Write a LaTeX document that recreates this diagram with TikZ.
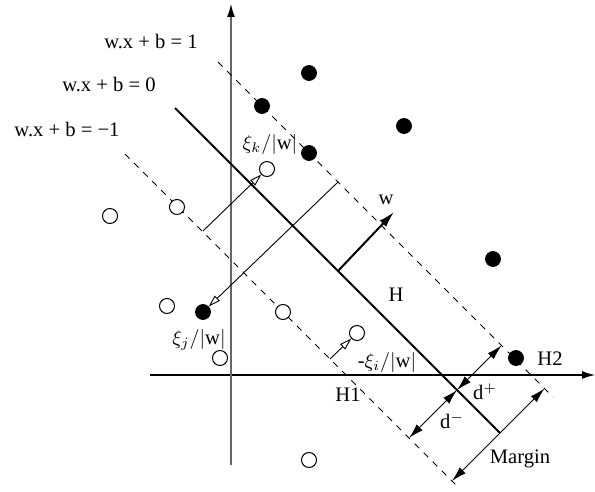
\documentclass[tikz,border=0pt]{standalone}
\usepackage{fontspec}
\setmainfont{Liberation Serif}
\usetikzlibrary{arrows.meta}
\begin{document}
\begin{tikzpicture}[x=0.5pt,y=-0.5pt,
  lbl/.style={font=\fontsize{10.3}{12}\selectfont, inner sep=0pt},
  blackdot/.style={circle, fill=black, draw=black, inner sep=0pt, minimum size=7.5pt},
  opendot/.style={circle, fill=white, draw=black, line width=0.5pt, inner sep=0pt, minimum size=7.5pt},
  axis/.style={line width=0.6pt, -{Latex[length=6.5pt,width=4pt,fill=black,color=black]}},
  hyper/.style={line width=1pt},
  margin/.style={line width=0.45pt, dash pattern=on 3.2pt off 3.2pt},
  slack/.style={line width=0.45pt, -{Triangle[open,length=6pt,width=3.6pt]}},
  dist/.style={line width=0.5pt, {Latex[length=7.5pt,width=4.2pt]}-{Latex[length=7.5pt,width=4.2pt]}}
]
\useasboundingbox (0,0) rectangle (595,492);
% axes
\coordinate (xs) at (150,375);
\coordinate (xe) at (595,375);
\coordinate (ys) at (231,465);
\coordinate (ye) at (231,4);
\draw[axis] (xs) -- (xe);
\draw[axis, draw=black!60] (ys) -- (ye);
% hyperplanes
\coordinate (Hs) at (175,108);
\coordinate (He) at (500,433);
\coordinate (H2s) at (218,62);
\coordinate (H2e) at (553,397);
\coordinate (H1s) at (125,154);
\coordinate (H1e) at (457,486);
\draw[margin] (H2s) -- (H2e);
\draw[margin] (H1s) -- (H1e);
\draw[hyper] (Hs) -- (He);
% points
\node[blackdot] (p1) at (309,73) {};
\node[blackdot] (p2) at (262,106) {};
\node[blackdot] (p3) at (404,126) {};
\node[blackdot] (p4) at (309,153) {};
\node[blackdot] (p5) at (493,259) {};
\node[blackdot] (pj) at (203,312) {};
\node[blackdot] (p6) at (516,358) {};
\node[opendot] (n1) at (110,216) {};
\node[opendot] (n2) at (177,207) {};
\node[opendot] (nk) at (267,169) {};
\node[opendot] (n3) at (167,306) {};
\node[opendot] (n4) at (220,358) {};
\node[opendot] (n5) at (283,312) {};
\node[opendot] (ni) at (357,333) {};
\node[opendot] (n6) at (309,460) {};
% normal vector
\coordinate (ws) at (338,271);
\coordinate (we) at (394,212);
\draw[line width=1pt, -{Latex[length=8pt,width=4.5pt]}] (ws) -- (we);
% slack arrows
\coordinate (sk) at (203,231);
\coordinate (sj) at (338,182);
\coordinate (si) at (330,359);
\draw[slack] (sk) -- (nk);
\draw[slack] (sj) -- (pj);
\draw[slack] (si) -- (ni);
% distances
\coordinate (P) at (457,390);
\coordinate (Pp) at (501.5,345.5);
\coordinate (Pm) at (409,438);
\coordinate (Ms) at (452,481);
\coordinate (Me) at (544.5,388.5);
\draw[dist] (P) -- (Pp);
\draw[dist] (P) -- (Pm);
\draw[dist] (Ms) -- (Me);
% labels
\node[lbl] (l1) at (151,42) {w.x + b = 1};
\node[lbl] (l0) at (109,85) {w.x + b = 0};
\node[lbl] (lm) at (67,130) {w.x + b = −1};
\node[lbl] (lw) at (386,200) {w};
\node[lbl] (lH) at (396,295) {H};
\node[lbl] (lH2) at (550,359) {H2};
\node[lbl] (lH1) at (348,395) {H1};
\node[lbl] (ldp) at (485,392) {d$^{+}$};
\node[lbl] (ldm) at (452,421) {d$^{-}$};
\node[lbl] (lM) at (520,459) {Margin};
\node[lbl] (lk) at (270,145) {$\xi_k/|$w$|$};
\node[lbl] (lj) at (199,340) {$\xi_j/|$w$|$};
\node[lbl] (li) at (387,362) {-$\xi_i/|$w$|$};
\end{tikzpicture}
\end{document}
